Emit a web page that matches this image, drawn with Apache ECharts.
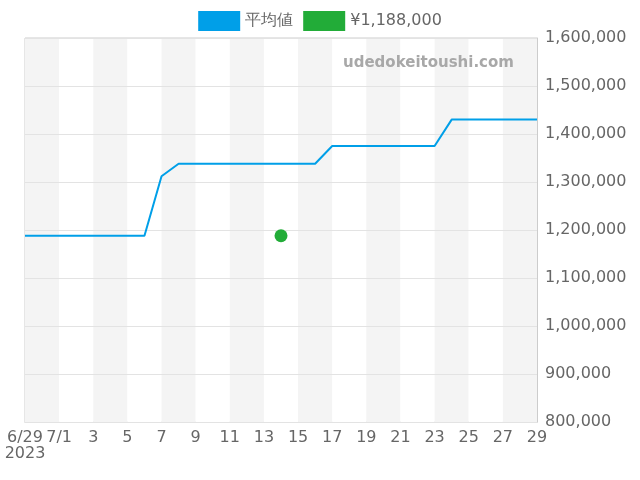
<!DOCTYPE html>
<html><head><meta charset="utf-8">
<script src="https://cdn.jsdelivr.net/npm/echarts@6/dist/echarts.min.js"></script>
<style>html,body{margin:0;padding:0;}#c{width:640px;height:480px;}</style>
</head><body><div id="c"></div>
<script>
const categories = ['6/29','6/30','7/1','2','3','4','5','6','7','8','9','10','11','12','13','14','15','16','17','18','19','20','21','22','23','24','25','26','27','28','29'];
const axisLabels = ['6/29\n2023','','7/1','','3','','5','','7','','9','','11','','13','','15','','17','','19','','21','','23','','25','','27','','29'];
const avgValues = [1188000,1188000,1188000,1188000,1188000,1188000,1188000,1188000,1312000,1338000,1338000,1338000,1338000,1338000,1338000,1338000,1338000,1338000,1375000,1375000,1375000,1375000,1375000,1375000,1375000,1430000,1430000,1430000,1430000,1430000,1430000];
const pointValues = categories.map((c,i)=> i===15 ? 1188000 : null);
const chart = echarts.init(document.getElementById('c'));
chart.setOption({
  animation:false,
  textStyle:{fontFamily:'DejaVu Sans'},
  legend:{top:6,left:'center',itemWidth:42,itemHeight:20,itemGap:10,textStyle:{fontSize:16,color:'#666',fontFamily:'DejaVu Sans'},
    data:[{name:'平均値',icon:'rect'},{name:'¥1,188,000',icon:'rect'}]},
  graphic:[{type:'text',z:100,zlevel:1,left:343,top:56,style:{text:'udedokeitoushi.com',fill:'#a8a8a8',font:'bold 15px DejaVu Sans'}}],
  grid:{left:25,right:103,top:38,bottom:58,show:true,borderColor:'#ccc',borderWidth:1},
  xAxis:{type:'category',data:categories,boundaryGap:false,z:1,
    axisLine:{lineStyle:{color:'#ccc'}},axisTick:{show:false},
    axisLabel:{interval:0,color:'#666',fontSize:16,formatter:(v,i)=>axisLabels[i]},
    splitLine:{show:false},
    splitArea:{show:true,interval:1,areaStyle:{color:['#f4f4f4','#fff']}}},
  yAxis:{type:'value',position:'right',min:800000,max:1600000,interval:100000,z:3,
    axisLine:{show:true,lineStyle:{color:'#ccc'}},
    axisLabel:{color:'#666',fontSize:16,formatter:v=>v.toLocaleString('en-US')},
    splitLine:{lineStyle:{color:'#e3e3e3'}}},
  series:[
    {name:'平均値',type:'line',z:5,data:avgValues,showSymbol:false,color:'#009fe8',itemStyle:{opacity:1},lineStyle:{width:2}},
    {name:'¥1,188,000',type:'scatter',z:6,data:pointValues,symbolSize:13,color:'#22ac38',itemStyle:{opacity:1}}
  ]
});
</script></body></html>
